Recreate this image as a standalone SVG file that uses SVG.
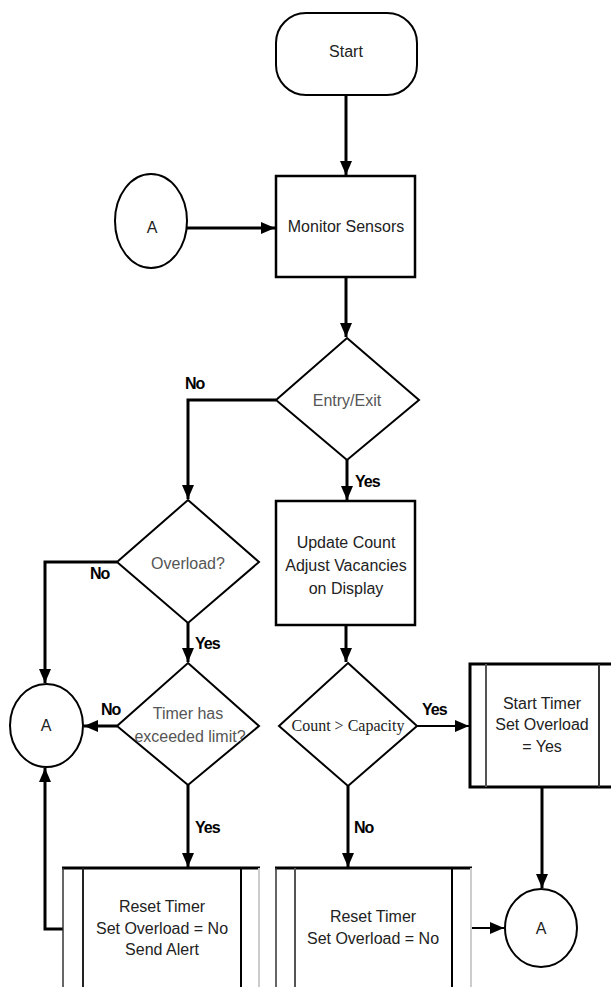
<svg xmlns="http://www.w3.org/2000/svg" width="611" height="987" viewBox="0 0 611 987">
<defs>
<marker id="ah" markerUnits="userSpaceOnUse" markerWidth="15" markerHeight="12" refX="14" refY="6" orient="auto">
<path d="M0,0 L14,6 L0,12 z" fill="#000"/>
</marker>
<style>
.sh{fill:#fff;stroke:#000;stroke-width:2}
.bx{fill:#fff;stroke:#000;stroke-width:2.5}
.t{font-family:"Liberation Sans",Arial,sans-serif;font-size:16px;fill:#222;text-anchor:middle}
.tg{font-family:"Liberation Sans",Arial,sans-serif;font-size:16px;fill:#555;text-anchor:middle}
.ts{font-family:"Liberation Serif","Times New Roman",serif;font-size:16px;fill:#222;text-anchor:middle}
.lb{font-family:"Liberation Sans",Arial,sans-serif;font-size:16px;font-weight:bold;fill:#000;letter-spacing:-1px}
.c{fill:none;stroke:#000;stroke-width:3;marker-end:url(#ah)}
.c2{fill:none;stroke:#000;stroke-width:2;marker-end:url(#ah)}
</style>
</defs>
<rect width="611" height="987" fill="#fff"/>
<g id="connectors">
<path class="c" d="M346,95 L346,175"/>
<path class="c" d="M187,228 L275,228"/>
<path class="c" d="M346,277 L346,337"/>
<path class="c" d="M276,400 L188,400 L188,499"/>
<path class="c" d="M347,460 L347,500"/>
<path class="c" d="M117,562 L45,562 L45,683"/>
<path class="c" d="M188,623 L188,662"/>
<path class="c" d="M117,726 L84,726"/>
<path class="c" d="M188,785 L188,867"/>
<path class="c" d="M63,929 L45,929 L45,768"/>
<path class="c" d="M346,625 L346,662"/>
<path class="c2" d="M417,726 L469,726"/>
<path class="c" d="M348,786 L348,867"/>
<path class="c" d="M542,787 L542,888"/>
<path class="c2" d="M471,928 L504,928"/>
<text class="lb" x="185" y="389">No</text>
<text class="lb" x="355" y="487">Yes</text>
<text class="lb" x="90" y="579">No</text>
<text class="lb" x="195" y="649">Yes</text>
<text class="lb" x="101" y="715">No</text>
<text class="lb" x="195" y="833">Yes</text>
<text class="lb" x="422" y="715">Yes</text>
<text class="lb" x="354" y="833">No</text>
</g>
<g id="start">
<rect class="sh" x="276" y="13" width="141" height="82" rx="30" ry="30"/>
<text class="t" x="346" y="57">Start</text>
</g>
<g id="a-top">
<ellipse class="sh" cx="151" cy="221" rx="36" ry="47"/>
<text class="t" x="152" y="233">A</text>
</g>
<g id="monitor">
<rect class="bx" x="276" y="176" width="139" height="101"/>
<text class="t" x="346" y="232">Monitor Sensors</text>
</g>
<g id="entry-exit">
<path class="sh" d="M347,338 L419,400 L347,460 L276,400 Z"/>
<text class="tg" x="347" y="406">Entry/Exit</text>
</g>
<g id="overload">
<path class="sh" d="M188,500 L259,562 L188,623 L117,562 Z"/>
<text class="tg" x="188" y="569">Overload?</text>
</g>
<g id="update">
<rect class="bx" x="276" y="501" width="139" height="124" stroke-width="3"/>
<text class="t" x="346" y="548">Update Count</text>
<text class="t" x="346" y="571">Adjust Vacancies</text>
<text class="t" x="346" y="594">on Display</text>
</g>
<g id="a-left">
<ellipse class="sh" cx="46.5" cy="725.5" rx="36.5" ry="41.5"/>
<text class="t" x="46" y="731">A</text>
</g>
<g id="timer">
<path class="sh" d="M188,663 L259,726 L188,785 L117,726 Z"/>
<text class="tg" x="188" y="719">Timer has</text>
<text class="tg" x="190" y="742">exceeded limit?</text>
</g>
<g id="count">
<path class="sh" d="M348,663 L417,726 L348,786 L279,726 Z"/>
<text class="ts" x="348" y="731">Count &gt; Capacity</text>
</g>
<g id="start-timer">
<rect x="470" y="664" width="150" height="123" fill="#fff" stroke="#000" stroke-width="3"/>
<line x1="486" y1="664" x2="486" y2="787" stroke="#555" stroke-width="2"/>
<line x1="599" y1="664" x2="599" y2="787" stroke="#333" stroke-width="2"/>
<text class="t" x="542" y="709">Start Timer</text>
<text class="t" x="542" y="730">Set Overload</text>
<text class="t" x="542" y="752">= Yes</text>
</g>
<g id="reset-alert">
<rect x="63" y="868" width="196" height="130" fill="#fff" stroke="none"/>
<line x1="62" y1="868" x2="260" y2="868" stroke="#000" stroke-width="3"/>
<line x1="63" y1="868" x2="63" y2="987" stroke="#333" stroke-width="1.5"/>
<line x1="83" y1="868" x2="83" y2="987" stroke="#222" stroke-width="2"/>
<line x1="241" y1="868" x2="241" y2="987" stroke="#000" stroke-width="2"/>
<line x1="259" y1="868" x2="259" y2="987" stroke="#ccc" stroke-width="2"/>
<text class="t" x="162" y="912">Reset Timer</text>
<text class="t" x="162" y="934">Set Overload = No</text>
<text class="t" x="162" y="955">Send Alert</text>
</g>
<g id="reset">
<rect x="276" y="868" width="195" height="130" fill="#fff" stroke="none"/>
<line x1="275" y1="868" x2="472" y2="868" stroke="#000" stroke-width="3"/>
<line x1="276" y1="868" x2="276" y2="987" stroke="#333" stroke-width="1.5"/>
<line x1="295" y1="868" x2="295" y2="987" stroke="#555" stroke-width="2"/>
<line x1="452" y1="868" x2="452" y2="987" stroke="#000" stroke-width="2"/>
<line x1="471" y1="868" x2="471" y2="987" stroke="#ccc" stroke-width="2"/>
<text class="t" x="373" y="922">Reset Timer</text>
<text class="t" x="373" y="944">Set Overload = No</text>
</g>
<g id="a-bottom">
<ellipse class="sh" cx="541" cy="928" rx="36" ry="39"/>
<text class="t" x="541" y="934">A</text>
</g>
</svg>
